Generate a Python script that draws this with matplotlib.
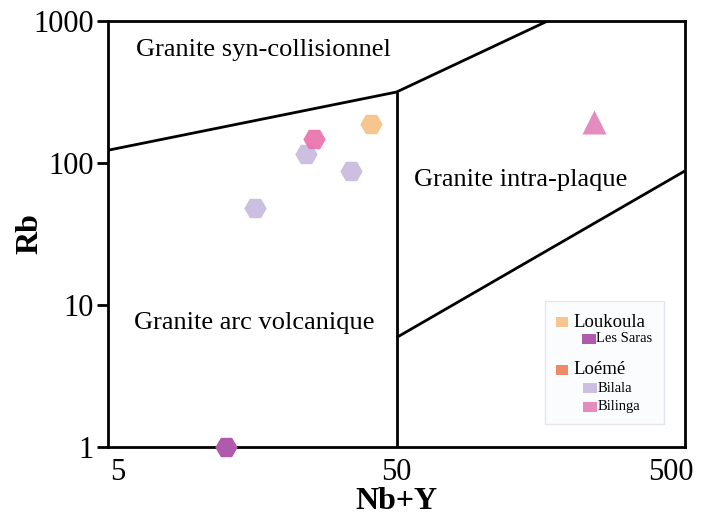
"""Rb vs Nb+Y tectonic discrimination diagram (Pearce-type fields)."""

import matplotlib.pyplot as plt
from matplotlib.patches import FancyBboxPatch, Rectangle
from matplotlib.transforms import ScaledTranslation

plt.rcParams["font.family"] = ["Liberation Serif", "DejaVu Serif"]

# sample data (Nb+Y, Rb)
loukoula_nby = [40.8]
loukoula_rb = [188]
les_saras_nby = [12.8]
les_saras_rb = [1.0]
bilala_nby = [24.3, 34.8, 16.2]
bilala_rb = [116, 88, 48]
bilinga_hex_nby = [25.9]
bilinga_hex_rb = [147]
bilinga_tri_nby = [242]
bilinga_tri_rb = [194]

# field boundaries
syn_colg_x = [5, 50, 167]
syn_colg_y = [123, 316, 1000]
vag_wpg_x = [50, 50]
vag_wpg_y = [1, 316]
orc_x = [50, 500]
orc_y = [5.9, 88]

C_LOUKOULA = "#f7c590"
C_SARAS = "#b05aad"
C_LOEME = "#ef8a68"
C_BILALA = "#ccbfe0"
C_BILINGA = "#e96fab"
C_BILINGA_TRI = "#e58cbf"

fig = plt.figure(figsize=(7.02, 5.21), dpi=100)
ax = fig.add_axes([108 / 702, 74 / 521, 577 / 702, 426 / 521])
ax.set_xscale("log")
ax.set_yscale("log")
ax.set_xlim(5, 500)
ax.set_ylim(1, 1000)

for xs, ys in [(syn_colg_x, syn_colg_y), (vag_wpg_x, vag_wpg_y), (orc_x, orc_y)]:
    ax.plot(xs, ys, color="black", lw=2, solid_capstyle="butt", zorder=2)

ms = 260
ax.scatter(bilala_nby, bilala_rb, marker="H", s=ms, color=C_BILALA, lw=0, zorder=3)
ax.scatter(bilinga_hex_nby, bilinga_hex_rb, marker="H", s=ms, color=C_BILINGA,
           alpha=0.9, lw=0, zorder=4)
ax.scatter(loukoula_nby, loukoula_rb, marker="H", s=ms, color=C_LOUKOULA, lw=0, zorder=3)
ax.scatter(les_saras_nby, les_saras_rb, marker="H", s=ms, color=C_SARAS, lw=0,
           zorder=4, clip_on=False)
ax.scatter(bilinga_tri_nby, bilinga_tri_rb, marker="^", s=300, color=C_BILINGA_TRI,
           lw=0, zorder=3)

# field names
ax.text(6.25, 625, "Granite syn-collisionnel", fontsize=19, ha="left", va="center")
ax.text(57.5, 76, "Granite intra-plaque", fontsize=19, ha="left", va="center")
ax.text(6.15, 7.5, "Granite arc volcanique", fontsize=19, ha="left", va="center")

# axes styling
for sp in ax.spines.values():
    sp.set_linewidth(2)
ax.set_yticks([1, 10, 100, 1000])
ax.set_yticklabels(["1", "10", "100", "1000"])
ax.set_xticks([5, 50, 500])
ax.set_xticklabels(["5", "50", "500"])
ax.minorticks_off()
ax.tick_params(axis="y", direction="out", length=8, width=2, labelsize=22, pad=2)
ax.tick_params(axis="x", length=0, labelsize=22, pad=8)
ax.set_xticks([50], minor=True)
ax.tick_params(axis="x", which="minor", direction="out", length=9, width=2)

# nudge the end labels inwards so they stay inside the figure
xlabels = ax.get_xticklabels()
xlabels[0].set_transform(xlabels[0].get_transform()
                         + ScaledTranslation(0.10, 0, fig.dpi_scale_trans))
xlabels[2].set_transform(xlabels[2].get_transform()
                         + ScaledTranslation(-0.14, 0, fig.dpi_scale_trans))

ax.set_xlabel("Nb+Y", fontsize=23, fontweight="bold", labelpad=0)
ax.set_ylabel("Rb", fontsize=23, fontweight="bold")
ax.yaxis.set_label_coords(-0.11, 0.5)

# legend box
lx0, ly0, lw_, lh_ = 0.757, 0.053, 0.207, 0.29
ax.add_patch(FancyBboxPatch((lx0, ly0), lw_, lh_, boxstyle="square,pad=0",
                            transform=ax.transAxes, facecolor="#fbfcfe",
                            edgecolor="#e3e6ea", lw=1, zorder=5))
entries = [
    ("Loukoula", C_LOUKOULA, 0.030, 0.293, 13.5),
    ("Les Saras", C_SARAS, 0.076, 0.254, 10.5),
    ("Loémé", C_LOEME, 0.030, 0.181, 13.5),
    ("Bilala", C_BILALA, 0.079, 0.138, 10.5),
    ("Bilinga", C_BILINGA_TRI, 0.079, 0.094, 10.5),
]
for label, col, dx, yc, fs in entries:
    size = 0.020 if fs > 12 else 0.024
    ax.add_patch(Rectangle((lx0 + dx - size / 2, yc - 0.012), size, 0.024,
                           transform=ax.transAxes, facecolor=col, lw=0, zorder=6))
    ax.text(lx0 + dx + size / 2 + 0.010 * (fs > 12), yc, label,
            transform=ax.transAxes, fontsize=fs, ha="left", va="center", zorder=6)

fig.savefig("out.png", dpi=100)
